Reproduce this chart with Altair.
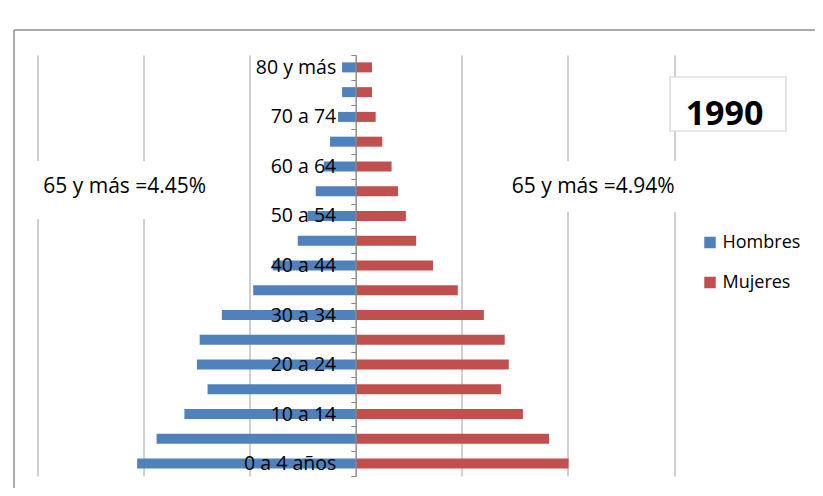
import altair as alt
import pandas as pd

# ---- data (percent of each sex) ----
edades = ["0 a 4 años", "5 a 9", "10 a 14", "15 a 19", "20 a 24", "25 a 29",
          "30 a 34", "35 a 39", "40 a 44", "45 a 49", "50 a 54", "55 a 59",
          "60 a 64", "65 a 69", "70 a 74", "75 a 79", "80 y más"]
hombres = [13.60, 12.39, 10.66, 9.22, 9.88, 9.71, 8.33, 6.38, 5.16, 3.61,
           2.99, 2.49, 1.99, 1.60, 1.10, 0.85, 0.85]
mujeres = [13.24, 12.03, 10.40, 9.04, 9.52, 9.27, 7.97, 6.35, 4.81, 3.76,
           3.12, 2.63, 2.23, 1.65, 1.24, 1.01, 1.01]
series = ["Hombres", "Mujeres"]
colores = ["#4f81bd", "#c0504d"]
rejilla = [-19.8, -13.2, -6.6, 0, 6.6, 13.2, 19.8]
etiquetas_visibles = ["80 y más", "70 a 74", "60 a 64", "50 a 54", "40 a 44",
                      "30 a 34", "20 a 24", "10 a 14", "0 a 4 años"]
texto_izq = "65 y más =4.45%"
texto_der = "65 y más =4.94%"
anio = "1990"

FONT = "Open Sans"
W, H = 636.5, 421

rows = []
for e, h, m in zip(edades, hombres, mujeres):
    rows.append({"edad": e, "sexo": series[0], "valor": -h})
    rows.append({"edad": e, "sexo": series[1], "valor": m})
df = pd.DataFrame(rows)

lbl_expr = "indexof([" + ",".join("'" + s + "'" for s in etiquetas_visibles) + "], datum.value) >= 0 ? datum.value : ''"

bars = alt.Chart(df).mark_bar(size=10).encode(
    x=alt.X("valor:Q",
            scale=alt.Scale(domain=[rejilla[0], rejilla[-1]], nice=False, zero=False),
            axis=alt.Axis(values=rejilla, grid=True, gridColor="#a0a0a0", gridWidth=1,
                          labels=False, ticks=False, domain=False, title=None)),
    y=alt.Y("edad:N", sort=list(reversed(edades)),
            scale=alt.Scale(paddingInner=0, paddingOuter=0),
            axis=alt.Axis(title=None, offset=-W / 2, zindex=1, tickBand="extent",
                          domainColor="#868686", tickColor="#868686", tickSize=5,
                          labelPadding=15, labelFont=FONT, labelFontSize=19.5,
                          labelColor="black", labelExpr=lbl_expr, labelOverlap=False,
                          labelLimit=300, grid=False)),
    color=alt.Color("sexo:N",
                    scale=alt.Scale(domain=series, range=colores),
                    legend=alt.Legend(title=None, orient="none", legendX=663.5, legendY=178.5,
                                      symbolType="square", symbolSize=132, symbolStrokeWidth=0,
                                      labelFont=FONT, labelFontSize=18, labelColor="black",
                                      labelOffset=3.5, rowPadding=22, padding=0)),
)

one = pd.DataFrame({"k": [0]})

# white patches that interrupt the gridlines behind the annotations
gap_l = alt.Chart(one).mark_rect(color="white").encode(
    x=alt.value(-7.5), x2=alt.value(172.5), y=alt.value(106), y2=alt.value(164))
gap_r = alt.Chart(one).mark_rect(color="white").encode(
    x=alt.value(437.5), x2=alt.value(652.5), y=alt.value(106), y2=alt.value(157))

ann_l = alt.Chart(pd.DataFrame({"t": [texto_izq]})).mark_text(
    font=FONT, fontSize=21, align="left", baseline="alphabetic", color="black").encode(
    x=alt.value(5.8), y=alt.value(138.3), text="t:N")
ann_r = alt.Chart(pd.DataFrame({"t": [texto_der]})).mark_text(
    font=FONT, fontSize=21, align="left", baseline="alphabetic", color="black").encode(
    x=alt.value(474.2), y=alt.value(138.3), text="t:N")

box = alt.Chart(one).mark_rect(fill="white", stroke="#d0d0d0", strokeWidth=1.2).encode(
    x=alt.value(632.5), x2=alt.value(748.5), y=alt.value(22), y2=alt.value(76))
year = alt.Chart(pd.DataFrame({"t": [anio]})).mark_text(
    font=FONT, fontSize=34, fontWeight="bold", align="center", baseline="alphabetic",
    color="black").encode(x=alt.value(687), y=alt.value(70), text="t:N")

# outer frame of the chart area (top and left edges)
frame_l = alt.Chart(one).mark_rule(color="#8f8f8f", strokeWidth=1.5).encode(
    x=alt.value(-23.5), y=alt.value(-25), y2=alt.value(440))
frame_t = alt.Chart(one).mark_rule(color="#8f8f8f", strokeWidth=1.5).encode(
    x=alt.value(-23.5), x2=alt.value(780), y=alt.value(-25))

chart = alt.layer(frame_l, frame_t, bars, gap_l, gap_r, ann_l, ann_r, box, year).properties(
    width=W, height=H,
    autosize=alt.AutoSizeParams(type="none"),
    padding={"left": 29.5, "top": 47, "right": 141, "bottom": 12},
    background="white",
).configure_view(strokeWidth=0)

chart.save("out.html", embed_options={"renderer": "svg", "actions": False})
